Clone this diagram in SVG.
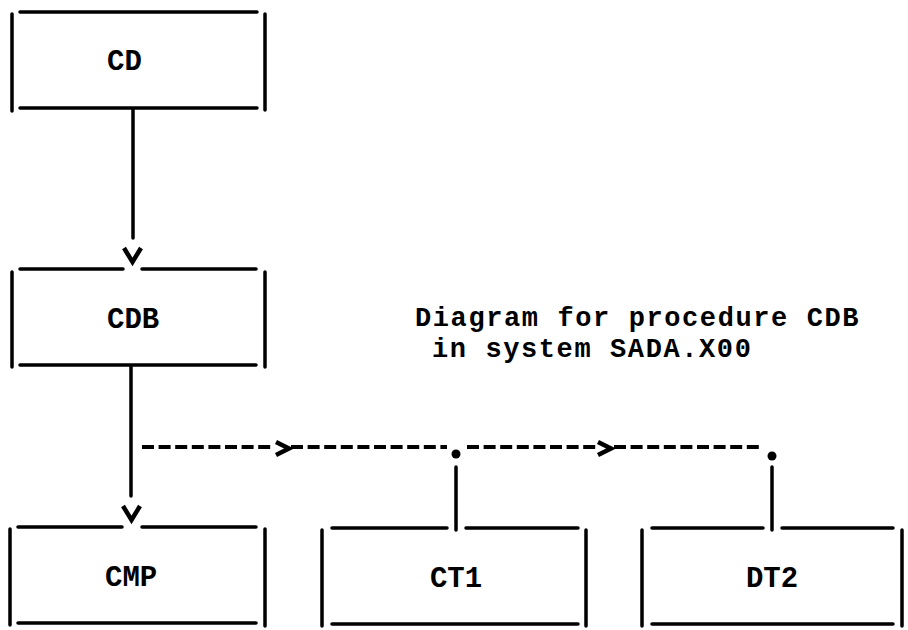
<svg xmlns="http://www.w3.org/2000/svg" width="908" height="630" viewBox="0 0 908 630">
<style>
.ln{stroke:#000;stroke-width:3.5;stroke-linecap:round;fill:none}
.dash{stroke:#000;stroke-width:4;fill:none;stroke-dasharray:12 4.6}
.head{stroke:#000;stroke-width:4.5;fill:none;stroke-linejoin:miter;stroke-linecap:butt}
.t{font-family:"Liberation Mono","DejaVu Sans Mono",monospace;font-weight:bold;font-size:29px;fill:#000}
.c{font-family:"Liberation Mono","DejaVu Sans Mono",monospace;font-weight:bold;font-size:27px;letter-spacing:1.6px;fill:#000}
</style>
<rect width="908" height="630" fill="#fff"/>
<g id="CD">
<path class="ln" d="M20,12H257M20,108H257M12,14V111M265,14V110"/>
<text class="t" x="107" y="70">CD</text>
</g>
<g id="CDB">
<path class="ln" d="M20,269H123M142,269H256M20,365H256M12,272V367M265,272V367"/>
<text class="t" x="107" y="328">CDB</text>
</g>
<g id="CMP">
<path class="ln" d="M18,527H122M142,527H256M18,623H256M10,529V625M265,529V626"/>
<text class="t" x="105" y="586">CMP</text>
</g>
<g id="CT1">
<path class="ln" d="M332,528H447M466,528H578M332,624H578M322,530V626M586,530V626"/>
<text class="t" x="456" y="587" text-anchor="middle">CT1</text>
</g>
<g id="DT2">
<path class="ln" d="M652,528H763M782,528H893M652,624H893M642,530V626M902,530V626"/>
<text class="t" x="772" y="587" text-anchor="middle">DT2</text>
</g>
<g id="caption">
<text class="c" x="415" y="326">Diagram for procedure CDB</text>
<text class="c" x="432" y="357">in system SADA.X00</text>
</g>
<g id="connectors">
<path class="ln" d="M133,110V238"/>
<path class="head" d="M124,248L132.5,262L141,248"/>
<path class="ln" d="M131,367V496"/>
<path class="head" d="M123,506L131.5,520L140,506"/>
<path class="dash" d="M142,447H273"/>
<path class="head" d="M276,442L289,448.5L276,455"/>
<path class="dash" d="M291,447H447"/>
<circle cx="456" cy="454" r="4.5"/>
<path class="dash" d="M467,447H596"/>
<path class="head" d="M598,442L611,448.5L598,455"/>
<path class="dash" d="M614,447H762"/>
<circle cx="772" cy="456" r="4.5"/>
<path class="ln" d="M456,467V530"/>
<path class="ln" d="M772,467V530"/>
</g>
</svg>
